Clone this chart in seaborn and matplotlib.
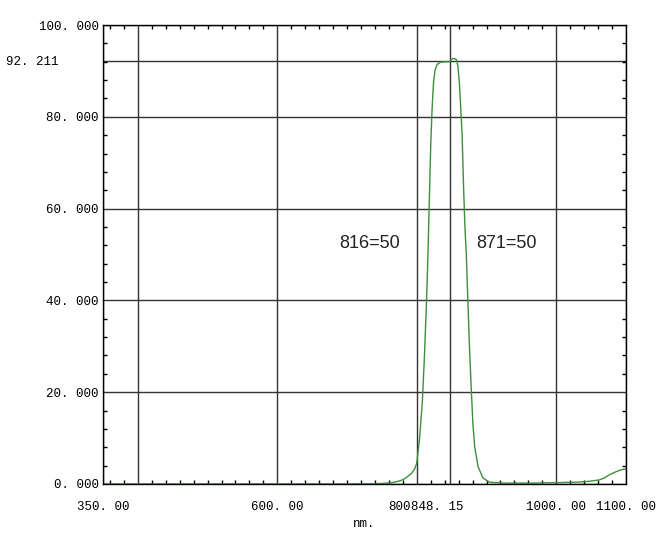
import matplotlib
matplotlib.use('Agg')
import matplotlib.pyplot as plt
import matplotlib.transforms as mtrans
import numpy as np
import pandas as pd
import seaborn as sns

# transmission curve
wavelength = [350, 450, 550, 650, 700, 740, 760, 771, 778, 784, 789, 793, 797, 800,
              804, 808, 811, 814, 816, 818, 820, 822, 824, 826, 829, 834, 843, 847,
              850, 854, 857, 859, 861, 863, 865, 867, 869, 871, 873, 875.5, 878,
              880.5, 883, 888, 895, 904, 925, 960, 1000, 1030, 1048, 1062, 1070,
              1076, 1086, 1093, 1100]
transmission = [0.0, 0.0, 0.0, 0.0, 0.0, 0.05, 0.2, 0.5, 0.8, 1.3, 1.9, 2.4, 3.3, 4.6,
                10.0, 18.0, 28.0, 40.0, 50.0, 62.0, 74.0, 82.0, 87.5, 90.0, 91.4, 91.9,
                92.0, 92.0, 92.6, 92.7, 92.4, 90.9, 87.5, 82.0, 76.0, 65.0, 56.0, 50.0,
                41.0, 30.0, 21.0, 13.0, 8.1, 3.7, 1.3, 0.4, 0.2, 0.2, 0.3, 0.4, 0.6,
                0.9, 1.4, 2.0, 2.7, 3.1, 3.3]

x_ticks = [350, 400, 600, 800, 848.15, 1000, 1100]
x_labels = ['350. 00', '', '600. 00', '800', '848. 15', '1000. 00', '1100. 00']
y_ticks = [0, 20, 40, 60, 80, 92.211, 100]
y_labels = ['0. 000', '20. 000', '40. 000', '60. 000', '80. 000', '92. 211', '100. 000']
notes = [(776, 52.3, '816=50', 'right'), (885, 52.3, '871=50', 'left')]

df = pd.DataFrame({'nm': wavelength, 'T': transmission})

sns.set_style('white')
mono = ['Liberation Mono', 'DejaVu Sans Mono']

fig = plt.figure(figsize=(6.57, 5.35), dpi=100)
ax = fig.add_axes([103/657, 1 - 484/535, (626 - 103)/657, (484 - 25)/535])

sns.lineplot(data=df, x='nm', y='T', ax=ax, color='#3c8f3c', linewidth=1.0)

ax.set_xlim(350, 1100)
ax.set_ylim(0, 100)
ax.set_xticks(x_ticks)
ax.set_xticklabels(x_labels, fontfamily=mono, fontsize=9, color='black')
ax.set_yticks(y_ticks)
ax.set_yticklabels(y_labels, fontfamily=mono, fontsize=9, color='black')
ax.set_xticks(np.arange(360, 1100, 20), minor=True)
ax.set_yticks(np.arange(4, 100, 4), minor=True)

ax.grid(True, which='major', color='#333333', linewidth=1.0)
ax.tick_params(which='minor', direction='in', length=3, width=1, color='black',
               top=True, bottom=True, left=True, right=True)
ax.tick_params(axis='x', which='major', direction='out', length=3, width=1,
               color='black', pad=9)
ax.tick_params(axis='y', which='major', length=0, pad=3)

# only the labelled grid ticks poke below the axis
for i, t in enumerate(ax.xaxis.get_major_ticks()):
    if x_ticks[i] not in (600, 800, 1000):
        t.tick1line.set_visible(False)

# nudge a few labels the way the instrument printed them
shifts = {'800': -17, '848. 15': -13}
for lbl in ax.get_xticklabels():
    dx = shifts.get(lbl.get_text(), 0)
    if dx:
        lbl.set_transform(lbl.get_transform() +
                          mtrans.ScaledTranslation(dx/100, 0, fig.dpi_scale_trans))
for lbl in ax.get_yticklabels():
    if lbl.get_text() == '92. 211':
        lbl.set_transform(lbl.get_transform() +
                          mtrans.ScaledTranslation(-0.40, 0, fig.dpi_scale_trans))

for s in ax.spines.values():
    s.set_color('black')
    s.set_linewidth(1.0)

for x, y, txt, ha in notes:
    ax.text(x, y, txt, ha=ha, va='center', fontsize=13,
            fontfamily=['Liberation Sans', 'DejaVu Sans'], color='#222222')

ax.set_xlabel('nm.', fontfamily=mono, fontsize=9, color='black', labelpad=4)
ax.set_ylabel('')

fig.savefig('out.png', dpi=100, facecolor='white')
